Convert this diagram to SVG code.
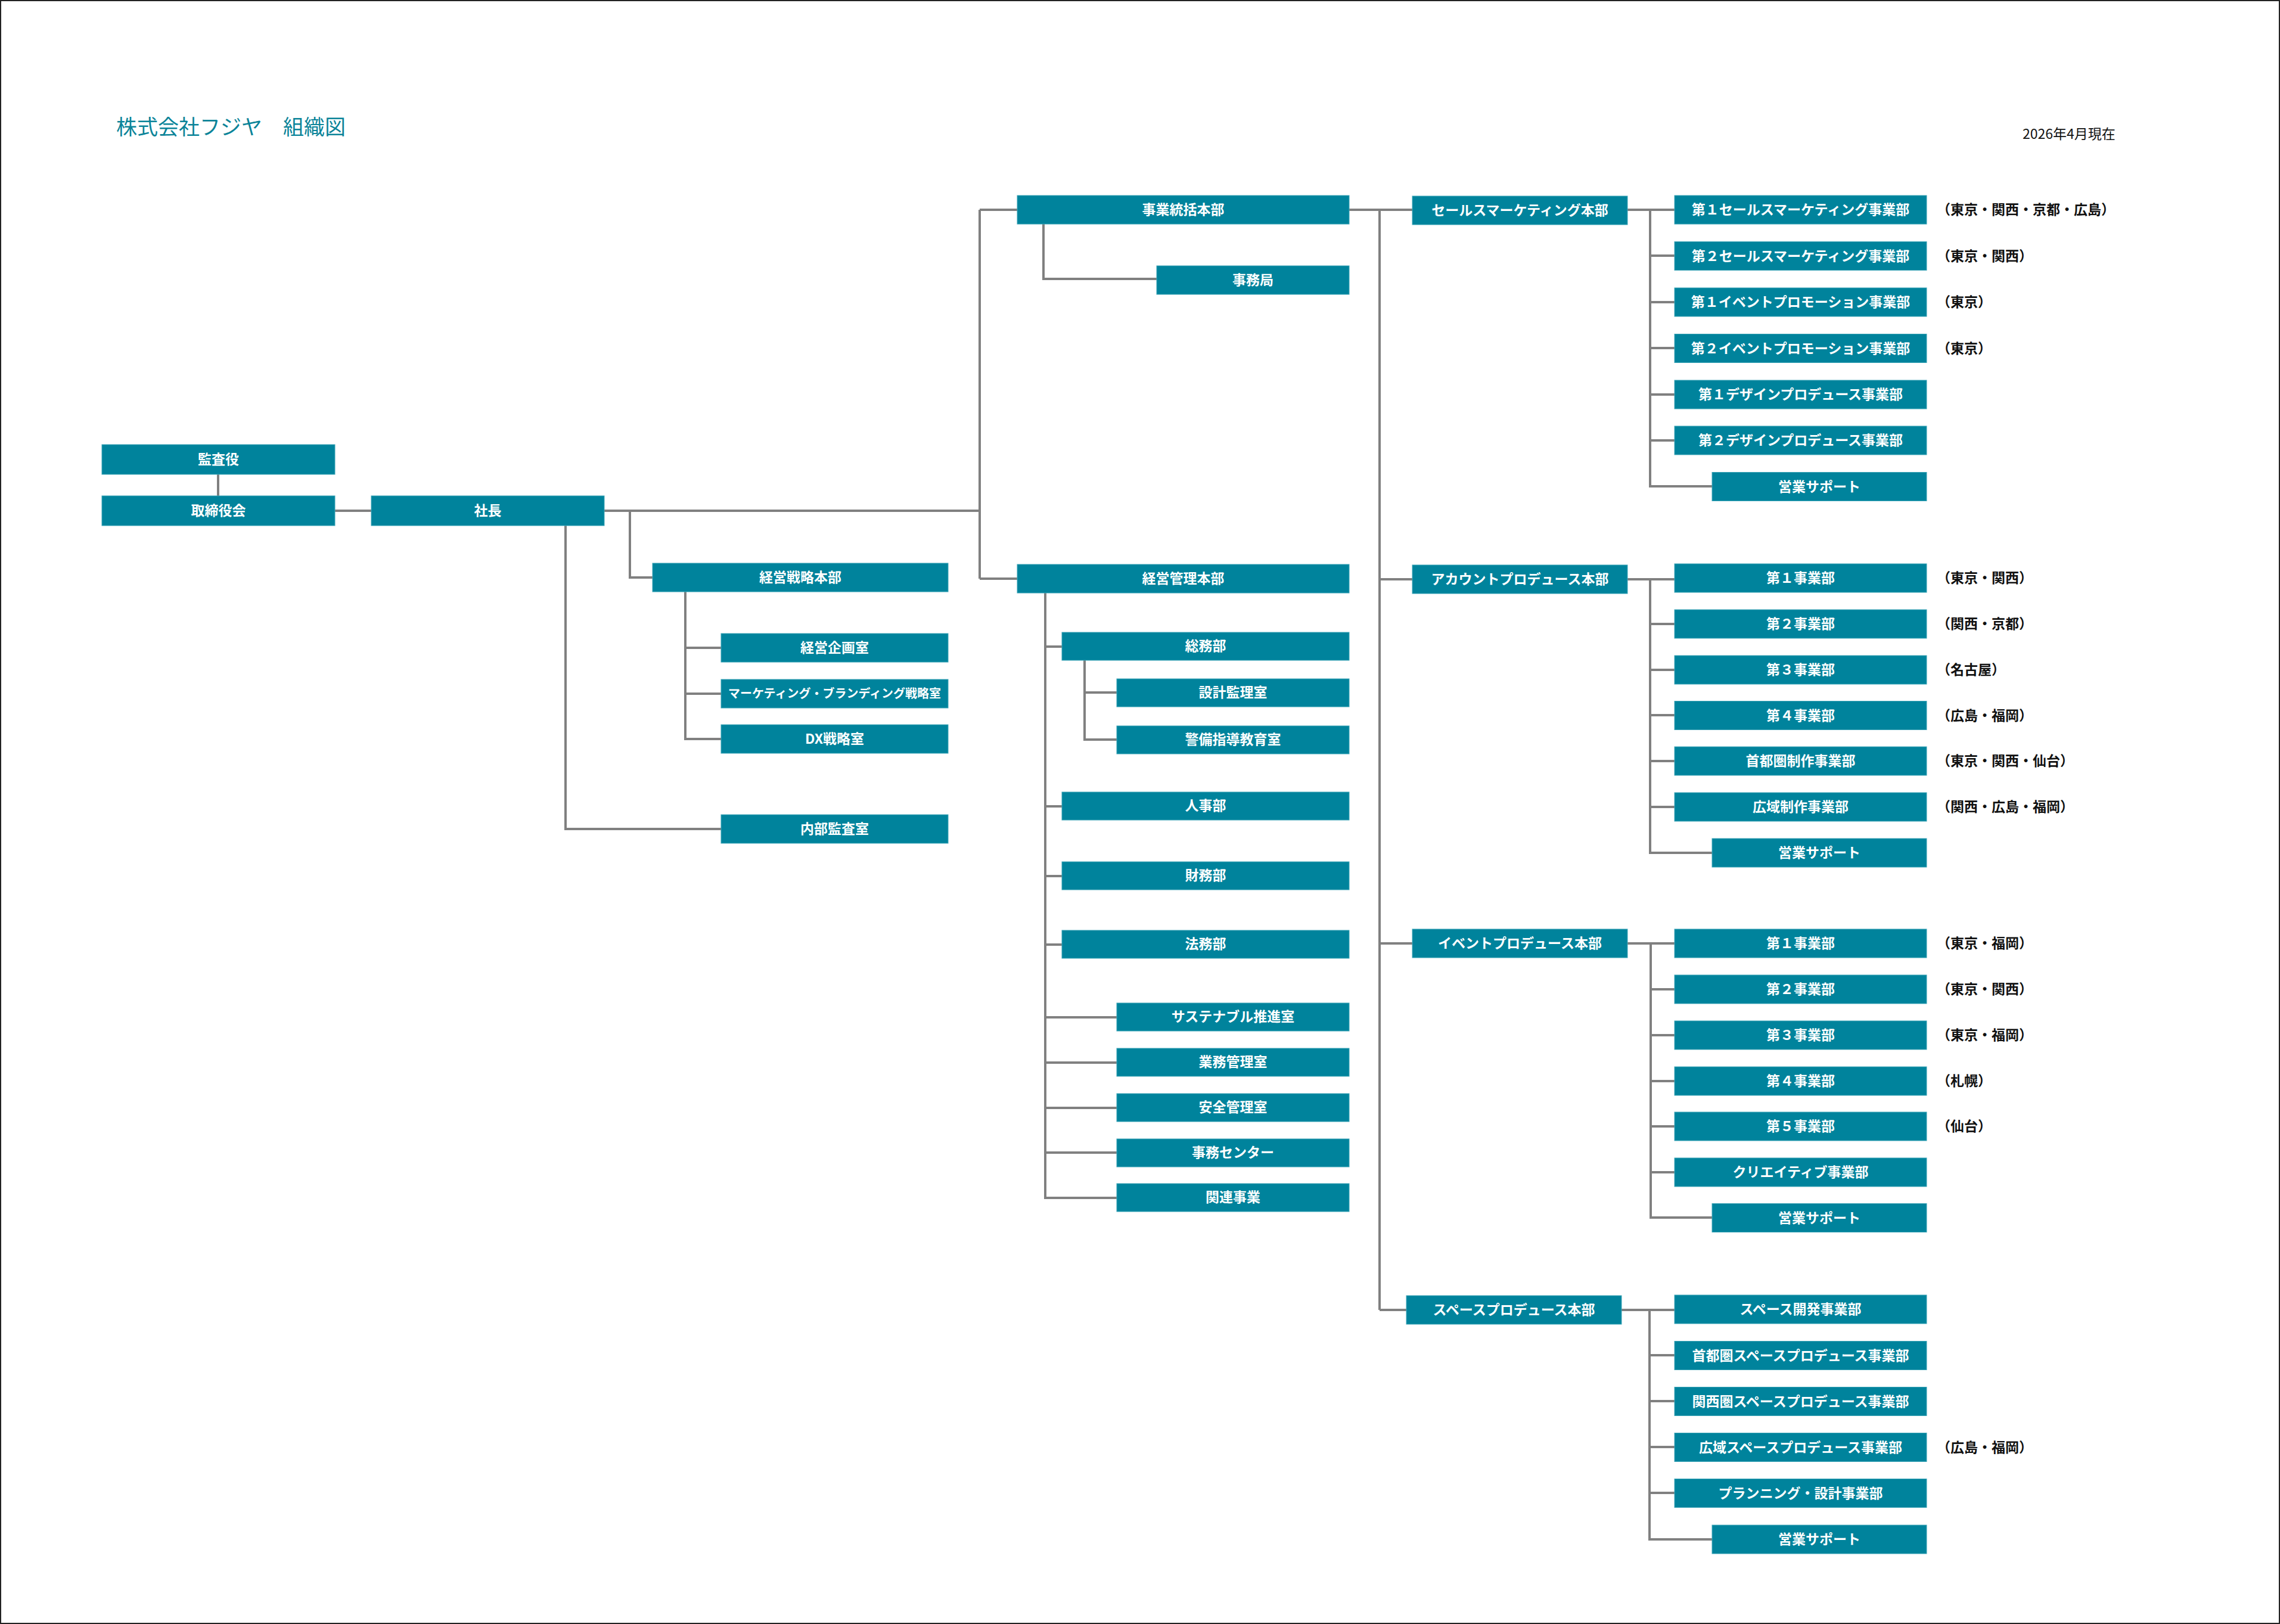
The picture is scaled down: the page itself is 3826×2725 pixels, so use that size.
<svg xmlns="http://www.w3.org/2000/svg" width="3826" height="2725" viewBox="0 0 3826 2725">
<style>
.b{fill:#00839C;stroke:#3FA6B8;stroke-width:1}
.t{fill:#ffffff;font-family:"Noto Sans CJK JP","Noto Sans",sans-serif;font-size:23px;font-weight:700;text-anchor:middle}
.s{font-size:20px}
.l{fill:#111111;font-family:"Noto Sans CJK JP","Noto Sans",sans-serif;font-size:23px;font-weight:700}
.c{fill:none;stroke:#808080;stroke-width:4}
</style>
<rect x="0" y="0" width="3826" height="2725" fill="#ffffff"/>
<rect x="1" y="1" width="3824" height="2723" fill="none" stroke="#222222" stroke-width="2"/>
<text x="195" y="226" font-family="Noto Sans CJK JP, sans-serif" font-size="35" fill="#0B8499">株式会社フジヤ　組織図</text>
<text x="3394" y="233" font-family="Noto Sans CJK JP, sans-serif" font-size="23" fill="#111111">2026年4月現在</text>

<g id="connectors">
<path class="c" d="M366 796V832"/>
<path class="c" d="M562 857H623"/>
<path class="c" d="M1014 857H1644"/>
<path class="c" d="M1644 352V971"/>
<path class="c" d="M1644 352H1707"/>
<path class="c" d="M1644 971H1707"/>
<path class="c" d="M1057 857V969H1095"/>
<path class="c" d="M949 882V1391H1210"/>
<path class="c" d="M1150 993V1240H1210M1150 1087H1210M1150 1164H1210"/>
<path class="c" d="M1751 376V468H1941"/>
<path class="c" d="M2264 352H2370"/>
<path class="c" d="M2315 352V2198"/>
<path class="c" d="M2315 972H2370M2315 1583H2370M2315 2198H2360"/>
<path class="c" d="M1754 995V2010H1874M1754 1085H1782M1754 1353H1782M1754 1470H1782M1754 1585H1782M1754 1707H1874M1754 1783H1874M1754 1859H1874M1754 1934H1874"/>
<path class="c" d="M1820 1108V1241H1874M1820 1162H1874"/>
<path class="c" d="M2731 352H2810M2769 352V816H2873M2769 429H2810M2769 507H2810M2769 584H2810M2769 662H2810M2769 739H2810"/>
<path class="c" d="M2731 972H2810M2769 972V1431H2873M2769 1047H2810M2769 1124H2810M2769 1200H2810M2769 1277H2810M2769 1354H2810"/>
<path class="c" d="M2731 1583H2810M2770 1583V2043H2873M2770 1660H2810M2770 1737H2810M2770 1814H2810M2770 1890H2810M2770 1967H2810"/>
<path class="c" d="M2721 2198H2810M2768 2198V2583H2873M2768 2274H2810M2768 2351H2810M2768 2428H2810M2768 2505H2810"/>
</g>

<g id="n-kansayaku"><rect class="b" x="171" y="746" width="391" height="50"/><text class="t" x="366.5" y="779">監査役</text></g>
<g id="n-torishimariyakukai"><rect class="b" x="171" y="832" width="391" height="50"/><text class="t" x="366.5" y="865">取締役会</text></g>
<g id="n-shacho"><rect class="b" x="623" y="832" width="391" height="50"/><text class="t" x="818.5" y="865">社長</text></g>
<g id="n-keiei-senryaku"><rect class="b" x="1095" y="945" width="496" height="48"/><text class="t" x="1343" y="977">経営戦略本部</text></g>
<g id="n-keiei-kikaku"><rect class="b" x="1210" y="1063" width="381" height="48"/><text class="t" x="1400.5" y="1095">経営企画室</text></g>
<g id="n-marketing"><rect class="b" x="1210" y="1140" width="381" height="48"/><text class="t s" x="1400.5" y="1171">マーケティング・ブランディング戦略室</text></g>
<g id="n-dx"><rect class="b" x="1210" y="1216" width="381" height="48"/><text class="t" x="1400.5" y="1248">DX戦略室</text></g>
<g id="n-naibu-kansa"><rect class="b" x="1210" y="1367" width="381" height="48"/><text class="t" x="1400.5" y="1399">内部監査室</text></g>

<g id="n-jigyo-tokatsu"><rect class="b" x="1707" y="328" width="557" height="48"/><text class="t" x="1985.5" y="360">事業統括本部</text></g>
<g id="n-jimukyoku"><rect class="b" x="1941" y="446" width="323" height="48"/><text class="t" x="2102.5" y="478">事務局</text></g>
<g id="n-keiei-kanri"><rect class="b" x="1707" y="947" width="557" height="48"/><text class="t" x="1985.5" y="979">経営管理本部</text></g>
<g id="n-somu"><rect class="b" x="1782" y="1061" width="482" height="47"/><text class="t" x="2023" y="1092">総務部</text></g>
<g id="n-sekkei"><rect class="b" x="1874" y="1139" width="390" height="47"/><text class="t" x="2069" y="1170">設計監理室</text></g>
<g id="n-keibi"><rect class="b" x="1874" y="1218" width="390" height="47"/><text class="t" x="2069" y="1249">警備指導教育室</text></g>
<g id="n-jinji"><rect class="b" x="1782" y="1329" width="482" height="47"/><text class="t" x="2023" y="1360">人事部</text></g>
<g id="n-zaimu"><rect class="b" x="1782" y="1446" width="482" height="47"/><text class="t" x="2023" y="1477">財務部</text></g>
<g id="n-homu"><rect class="b" x="1782" y="1561" width="482" height="47"/><text class="t" x="2023" y="1592">法務部</text></g>
<g id="n-sustainable"><rect class="b" x="1874" y="1683" width="390" height="47"/><text class="t" x="2069" y="1714">サステナブル推進室</text></g>
<g id="n-gyomu-kanri"><rect class="b" x="1874" y="1759" width="390" height="47"/><text class="t" x="2069" y="1790">業務管理室</text></g>
<g id="n-anzen-kanri"><rect class="b" x="1874" y="1835" width="390" height="47"/><text class="t" x="2069" y="1866">安全管理室</text></g>
<g id="n-jimu-center"><rect class="b" x="1874" y="1911" width="390" height="47"/><text class="t" x="2069" y="1942">事務センター</text></g>
<g id="n-kanren"><rect class="b" x="1874" y="1986" width="390" height="47"/><text class="t" x="2069" y="2017">関連事業</text></g>

<g id="n-sales-hq"><rect class="b" x="2370" y="329" width="361" height="48"/><text class="t" x="2550.5" y="361">セールスマーケティング本部</text></g>
<g id="n-account-hq"><rect class="b" x="2370" y="948" width="361" height="48"/><text class="t" x="2550.5" y="980">アカウントプロデュース本部</text></g>
<g id="n-event-hq"><rect class="b" x="2370" y="1559" width="361" height="48"/><text class="t" x="2550.5" y="1591">イベントプロデュース本部</text></g>
<g id="n-space-hq"><rect class="b" x="2360" y="2174" width="361" height="48"/><text class="t" x="2540.5" y="2206">スペースプロデュース本部</text></g>

<g id="n-s1"><rect class="b" x="2810" y="328" width="423" height="48"/><text class="t" x="3021.5" y="360">第１セールスマーケティング事業部</text><text class="l" x="3250" y="360">（東京・関西・京都・広島）</text></g>
<g id="n-s2"><rect class="b" x="2810" y="405.5" width="423" height="48"/><text class="t" x="3021.5" y="437.5">第２セールスマーケティング事業部</text><text class="l" x="3250" y="437.5">（東京・関西）</text></g>
<g id="n-s3"><rect class="b" x="2810" y="483" width="423" height="48"/><text class="t" x="3021.5" y="515">第１イベントプロモーション事業部</text><text class="l" x="3250" y="515">（東京）</text></g>
<g id="n-s4"><rect class="b" x="2810" y="560.5" width="423" height="48"/><text class="t" x="3021.5" y="592.5">第２イベントプロモーション事業部</text><text class="l" x="3250" y="592.5">（東京）</text></g>
<g id="n-s5"><rect class="b" x="2810" y="638" width="423" height="48"/><text class="t" x="3021.5" y="670">第１デザインプロデュース事業部</text></g>
<g id="n-s6"><rect class="b" x="2810" y="715" width="423" height="48"/><text class="t" x="3021.5" y="747">第２デザインプロデュース事業部</text></g>
<g id="n-s7"><rect class="b" x="2873" y="792.5" width="360" height="48"/><text class="t" x="3053" y="824.5">営業サポート</text></g>

<g id="n-a1"><rect class="b" x="2810" y="946" width="423" height="48"/><text class="t" x="3021.5" y="978">第１事業部</text><text class="l" x="3250" y="978">（東京・関西）</text></g>
<g id="n-a2"><rect class="b" x="2810" y="1023" width="423" height="48"/><text class="t" x="3021.5" y="1055">第２事業部</text><text class="l" x="3250" y="1055">（関西・京都）</text></g>
<g id="n-a3"><rect class="b" x="2810" y="1100" width="423" height="48"/><text class="t" x="3021.5" y="1132">第３事業部</text><text class="l" x="3250" y="1132">（名古屋）</text></g>
<g id="n-a4"><rect class="b" x="2810" y="1176.5" width="423" height="48"/><text class="t" x="3021.5" y="1208.5">第４事業部</text><text class="l" x="3250" y="1208.5">（広島・福岡）</text></g>
<g id="n-a5"><rect class="b" x="2810" y="1253" width="423" height="48"/><text class="t" x="3021.5" y="1285">首都圏制作事業部</text><text class="l" x="3250" y="1285">（東京・関西・仙台）</text></g>
<g id="n-a6"><rect class="b" x="2810" y="1330" width="423" height="48"/><text class="t" x="3021.5" y="1362">広域制作事業部</text><text class="l" x="3250" y="1362">（関西・広島・福岡）</text></g>
<g id="n-a7"><rect class="b" x="2873" y="1407" width="360" height="48"/><text class="t" x="3053" y="1439">営業サポート</text></g>

<g id="n-e1"><rect class="b" x="2810" y="1559" width="423" height="48"/><text class="t" x="3021.5" y="1591">第１事業部</text><text class="l" x="3250" y="1591">（東京・福岡）</text></g>
<g id="n-e2"><rect class="b" x="2810" y="1636" width="423" height="48"/><text class="t" x="3021.5" y="1668">第２事業部</text><text class="l" x="3250" y="1668">（東京・関西）</text></g>
<g id="n-e3"><rect class="b" x="2810" y="1713" width="423" height="48"/><text class="t" x="3021.5" y="1745">第３事業部</text><text class="l" x="3250" y="1745">（東京・福岡）</text></g>
<g id="n-e4"><rect class="b" x="2810" y="1790" width="423" height="48"/><text class="t" x="3021.5" y="1822">第４事業部</text><text class="l" x="3250" y="1822">（札幌）</text></g>
<g id="n-e5"><rect class="b" x="2810" y="1866" width="423" height="48"/><text class="t" x="3021.5" y="1898">第５事業部</text><text class="l" x="3250" y="1898">（仙台）</text></g>
<g id="n-e6"><rect class="b" x="2810" y="1943" width="423" height="48"/><text class="t" x="3021.5" y="1975">クリエイティブ事業部</text></g>
<g id="n-e7"><rect class="b" x="2873" y="2019.5" width="360" height="48"/><text class="t" x="3053" y="2051.5">営業サポート</text></g>

<g id="n-p1"><rect class="b" x="2810" y="2173" width="423" height="48"/><text class="t" x="3021.5" y="2205">スペース開発事業部</text></g>
<g id="n-p2"><rect class="b" x="2810" y="2250.5" width="423" height="48"/><text class="t" x="3021.5" y="2282.5">首都圏スペースプロデュース事業部</text></g>
<g id="n-p3"><rect class="b" x="2810" y="2327.5" width="423" height="48"/><text class="t" x="3021.5" y="2359.5">関西圏スペースプロデュース事業部</text></g>
<g id="n-p4"><rect class="b" x="2810" y="2404.5" width="423" height="48"/><text class="t" x="3021.5" y="2436.5">広域スペースプロデュース事業部</text><text class="l" x="3250" y="2436.5">（広島・福岡）</text></g>
<g id="n-p5"><rect class="b" x="2810" y="2481.5" width="423" height="48"/><text class="t" x="3021.5" y="2513.5">プランニング・設計事業部</text></g>
<g id="n-p6"><rect class="b" x="2873" y="2559" width="360" height="48"/><text class="t" x="3053" y="2591">営業サポート</text></g>
</svg>
